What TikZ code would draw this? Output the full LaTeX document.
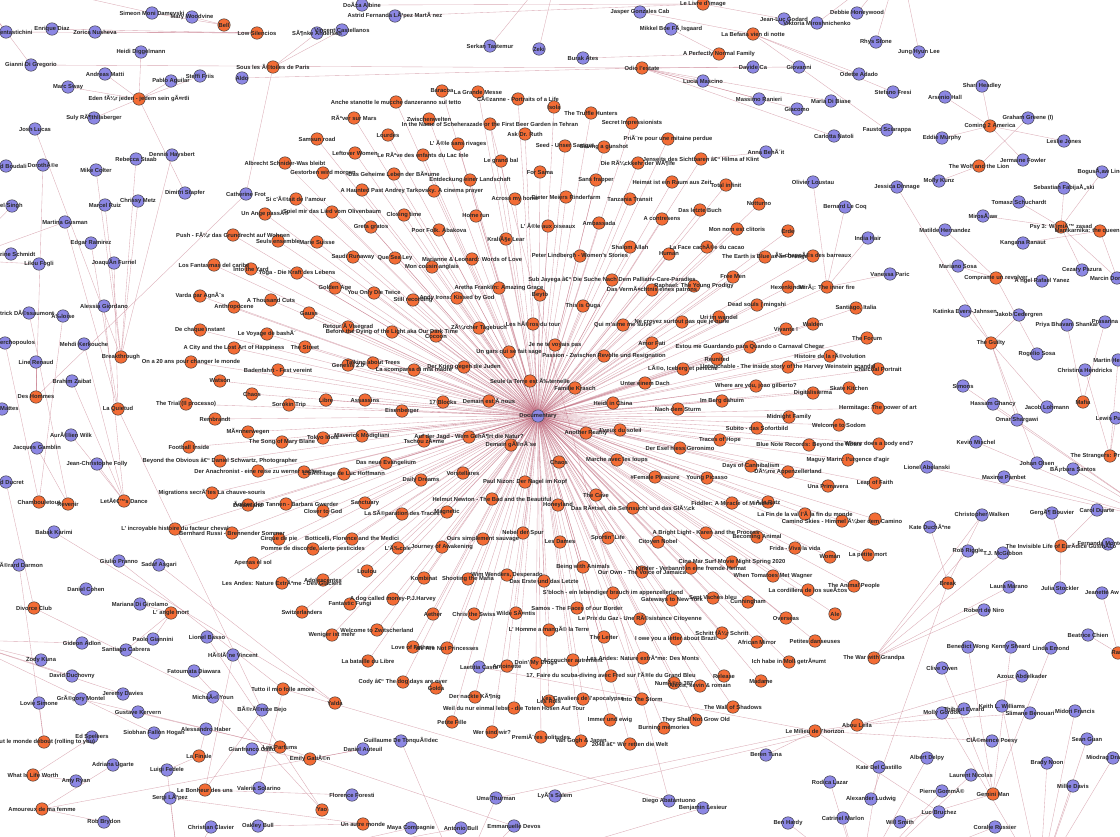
\documentclass[tikz,border=0pt]{standalone}
\usepackage{fontspec}
\setmainfont{Liberation Sans}
\pgfdeclarelayer{bg}
\pgfsetlayers{bg,main}
\definecolor{forg}{RGB}{243,108,53}
\definecolor{apur}{RGB}{140,135,228}
\definecolor{ecol}{RGB}{190,100,120}
\definecolor{tcol}{RGB}{40,40,40}
\tikzset{
 fnode/.style={circle,fill=forg,draw=black!80,line width=0.45pt,minimum size=12.5pt,inner sep=0pt},
 anode/.style={circle,fill=apur,draw=black!80,line width=0.45pt,minimum size=12.5pt,inner sep=0pt},
 lab/.style={inner sep=0pt,text=tcol,font=\fontsize{5.8}{6}\selectfont\bfseries},
 edge/.style={draw=ecol,line width=0.35pt,opacity=0.55}
}
\newif\iflabelpass
\newcommand\fn[4]{\iflabelpass\node[lab] at (#1) {#4};\else\node[fnode] (#1) at (#2,#3) {};\fi}
\newcommand\an[4]{\iflabelpass\node[lab] at (#1) {#4};\else\node[anode] (#1) at (#2,#3) {};\fi}
\newcommand\anw[4]{\iflabelpass\node[lab,anchor=west] at (0,#3) {#4};\else\node[anode] (#1) at (#2,#3) {};\fi}
\newcommand\allnodes{%
\anw{enn}{6}{32}{entastichini}
\an{enr}{52}{29}{Enrique Diaz}
\an{zor}{95}{32}{Zorica Nusheva}
\an{sim}{152}{13}{Simeon Moni Damevski}
\an{mar}{192}{17}{Mary Woodvine}
\an{hei}{141}{52}{Heidi Diggelmann}
\an{gia}{31}{65}{Gianni Di Gregorio}
\an{and}{105}{74}{Andreas Matti}
\an{ste}{200}{76}{Steffi Friis}
\an{ald}{242}{78}{Aldo}
\an{pab}{171}{81}{Pablo Aguilar}
\an{msw}{68}{87}{Marc Sway}
\an{sul}{94}{118}{Suly RÃ¶thlisberger}
\an{jos}{35}{129}{Josh Lucas}
\an{reb}{136}{159}{Rebecca Staab}
\an{den}{172}{155}{Dennis Haysbert}
\an{mik}{96}{170}{Mike Colter}
\an{dor}{43}{165}{DorothÃ©e}
\anw{bou}{6}{166}{d Boudali}
\an{don}{362}{5}{DoÃ±a Albine}
\an{ast}{395}{16}{Astrid Fernanda LÃ³pez MartÃ nez}
\an{vin}{342}{30}{Vincent Castellanos}
\an{son}{317}{33}{SÃ¶nke Andersen}
\an{ser}{490}{46}{Serkan Tastemur}
\an{zek}{539}{49}{Zeki}
\an{jas}{640}{12}{Jasper Gonzales Cab}
\an{mik2}{671}{29}{Mikkel Boe FÃ¸lsgaard}
\an{jlg}{784}{19}{Jean-Luc Godard}
\an{vik}{817}{23}{Viktoria Miroshnichenko}
\an{deb}{857}{13}{Debbie Honeywood}
\an{bur}{583}{58}{Burak Ates}
\an{dav}{753}{67}{Davide Ca}
\an{gio}{799}{67}{Giovanni}
\an{luc}{703}{81}{Lucia Mascino}
\an{mas}{759}{99}{Massimo Ranieri}
\an{giac}{797}{109}{Giacomo}
\an{mdb}{831}{101}{Maria Di Biase}
\an{car}{834}{136}{Carlotta Natoli}
\an{anb}{766}{152}{Anna BehÃ´it}
\an{rhy}{876}{42}{Rhys Stone}
\an{jun}{919}{52}{Jung Hyun Lee}
\an{ode}{859}{74}{Odette Adado}
\an{sfr}{893}{92}{Stefano Fresi}
\an{fau}{887}{130}{Fausto Sciarappa}
\an{sha}{982}{86}{Shari Headley}
\an{ars}{945}{97}{Arsenio Hall}
\an{gra}{1028}{118}{Graham Greene (I)}
\an{edd}{942}{138}{Eddie Murphy}
\an{les}{1064}{141}{Leslie Jones}
\an{jer}{1023}{160}{Jermaine Fowler}
\an{bog}{1102}{172}{BogusÅ‚aw Linda}
\an{mol}{939}{181}{Molly Kunz}
\an{chr}{138}{201}{Chrissy Metz}
\an{mrc}{105}{205}{Marcel Ruiz}
\an{dim}{185}{193}{Dimitri Stapfer}
\an{cat}{246}{194}{Catherine Frot}
\anw{sin}{12}{206}{el Singh}
\an{mgu}{65}{222}{Martina Gusman}
\an{edg}{91}{243}{Edgar Ramirez}
\anw{sch}{11}{254}{rine Schmidt}
\an{lil}{39}{264}{Lilou Fogli}
\an{joa}{114}{263}{JoaquÃ­n Furriel}
\an{ale}{104}{306}{Alessia Giordano}
\anw{pat}{29}{313}{trick DÃ©ssaumont}
\an{lou}{63}{316}{Ã‰loise}
\anw{mer}{5}{343}{erchopoulos}
\an{meh}{84}{344}{Mehdi Kerkouche}
\an{lin}{36}{362}{Line Renaud}
\an{bra}{72}{381}{Brahim Zaibat}
\anw{mat}{2}{409}{Mattes}
\an{aur}{71}{435}{AurÃ©lien Wilk}
\an{jac}{37}{448}{Jacques Gamblin}
\an{jcf}{97}{464}{Jean-Christophe Folly}
\anw{duc}{6}{482}{d Ducret}
\an{doc}{538}{416}{Documentary}
\an{oli}{813}{182}{Olivier Loustau}
\an{ber}{845}{207}{Bernard Le Coq}
\an{jes}{897}{187}{Jessica Dinnage}
\an{ind}{868}{238}{India Hair}
\an{mth}{945}{230}{Matilde Hernandez}
\an{tom}{1019}{202}{Tomasz Schuchardt}
\an{seb}{1064}{188}{Sebastian FabijaÅ„ski}
\an{mir}{983}{216}{MirosÅ‚aw}
\an{kan}{1023}{243}{Kangana Ranaut}
\an{msos}{958}{266}{Mariano Sosa}
\an{ang}{1042}{281}{Ã ngel Rafael Yanez}
\an{cez}{1082}{270}{Cezary Pazura}
\an{mdo}{1117}{278}{Marcin DorociÅ„ski}
\an{van}{890}{274}{Vanessa Paric}
\an{kat}{965}{311}{Katinka Evers-Jahnsen}
\an{jak}{1019}{315}{Jakob Cedergren}
\an{pri}{1067}{325}{Priya Bhavani Shankar}
\an{pra}{1105}{322}{Prasanna}
\an{rog}{1037}{354}{Rogelio Sosa}
\an{mhe}{1118}{360}{Martin Henderson}
\an{chh}{1085}{370}{Christina Hendricks}
\an{simo}{963}{386}{Simons}
\an{has}{993}{404}{Hassam Ghancy}
\an{jlo}{1047}{407}{Jacob Lohmann}
\an{oma}{1017}{420}{Omar Shargawi}
\an{lew}{1116}{418}{Lewis Pullman}
\an{kev}{976}{442}{Kevin Mischel}
\an{joh}{1037}{463}{Johan Olsen}
\an{bar}{1073}{469}{BÃ¡rbara Santos}
\an{lio}{927}{467}{Lionel Abelanski}
\an{max}{1004}{477}{Maxime Pambet}
\an{bab}{54}{532}{Babak Karimi}
\an{ger}{19}{565}{GÃ©rard Darmon}
\an{giu}{119}{561}{Giulio Pranno}
\an{sad}{159}{565}{Sadaf Asgari}
\an{dco}{86}{589}{Daniel Cohen}
\an{mdg}{140}{604}{Mariana Di Girolamo}
\an{pao}{153}{639}{Paolo Giannini}
\an{lba}{207}{637}{Lionel Basso}
\an{gid}{82}{643}{Gideon Adlon}
\an{san}{126}{650}{Santiago Cabrera}
\an{hel}{233}{655}{HÃ©lÃ¨ne Vincent}
\an{zod}{41}{660}{Zody Kuna}
\an{ddu}{72}{676}{David Duchovny}
\an{fat}{194}{671}{Fatoumata Diawara}
\an{jdv}{123}{694}{Jeremy Davies}
\an{lov}{39}{703}{Lovie Simone}
\an{gre}{81}{699}{GrÃ©gory Montel}
\an{mic}{213}{697}{MichaÃ«l Youn}
\an{bej}{262}{710}{BÃ©rÃ©nice Bejo}
\an{gus}{138}{712}{Gustave Kervern}
\an{ahb}{206}{729}{Alessandro Haber}
\an{sio}{154}{733}{Siobhan Fallon Hogan}
\an{eds}{92}{737}{Ed Speleers}
\an{gga}{252}{749}{Gianfranco Gallo}
\an{dau}{363}{749}{Daniel Auteuil}
\an{adr}{113}{765}{Adriana Ugarte}
\an{lfe}{167}{770}{Luigi Fedele}
\an{amy}{76}{781}{Amy Ryan}
\an{val}{259}{788}{Valeria Solarino}
\an{slo}{170}{798}{Sergi LÃ³pez}
\an{flo}{352}{795}{Florence Foresti}
\an{rob}{104}{822}{Rob Brydon}
\an{ccl}{211}{827}{Christian Clavier}
\an{oak}{258}{826}{Oakley Bull}
\an{gto}{401}{741}{Guillaume De TonquÃ©dec}
\an{uma}{496}{798}{Uma Thurman}
\an{lye}{555}{796}{LyÃ¨s Salem}
\an{dab}{669}{801}{Diego Abatantuono}
\an{bles}{703}{808}{Benjamin Lesieur}
\an{may}{411}{828}{Maya Compagnie}
\an{ant}{461}{828}{Antonio Bull}
\an{emm}{514}{826}{Emmanuelle Devos}
\an{lae}{479}{667}{Laetitia Casta}
\an{kdu}{930}{527}{Kate DuchÃªne}
\an{cwa}{982}{515}{Christopher Walken}
\an{gbo}{1052}{513}{GergÃ¶ Bouvier}
\an{cdu}{1097}{510}{Carol Duarte}
\an{fer}{1108}{544}{Fernanda Montenegro}
\an{rri}{968}{551}{Rob Riggle}
\an{tjm}{1003}{553}{T.J. McGibbon}
\an{lma}{1009}{587}{Laura Marano}
\an{jst}{1060}{588}{Julia Stockler}
\an{jaw}{1102}{593}{Jeanette Aw}
\an{rdn}{984}{610}{Robert de Niro}
\an{bch}{1088}{635}{Beatrice Chien}
\an{bwo}{968}{647}{Benedict Wong}
\an{ksh}{1011}{647}{Kenny Sheard}
\an{lem}{1051}{648}{Linda Emond}
\an{cow}{942}{668}{Clive Owen}
\an{azo}{1022}{676}{Azouz Abdelkader}
\an{mgo}{942}{713}{Molly Gordon}
\an{tev}{964}{709}{Thibaut Evrard}
\an{kwi}{1002}{706}{Keith L. Williams}
\an{sli}{1030}{713}{Slimane Benouari}
\an{mfr}{1075}{711}{Midori Francis}
\an{cpo}{992}{741}{ClÃ©mence Poesy}
\an{sgu}{1087}{739}{Sean Guan}
\an{btu}{766}{755}{Beren Tuna}
\an{ade}{927}{758}{Albert Delpy}
\an{bno}{1047}{763}{Brady Noon}
\an{mdr}{1113}{758}{Miodrag Dragicevic}
\an{kdc}{879}{767}{Kate Del Castillo}
\an{lni}{971}{775}{Laurent Nicolas}
\an{rla}{830}{782}{Rodica Lazar}
\an{mda}{1073}{786}{Millie Davis}
\an{pgo}{942}{791}{Pierre GommÃ©}
\an{alu}{871}{799}{Alexander Ludwig}
\an{lbr}{939}{812}{Luc Bruchez}
\an{cma}{843}{818}{Catrinel Marlon}
\an{wsm}{900}{822}{Will Smith}
\an{bha}{788}{823}{Ben Hardy}
\an{cru}{995}{827}{Coralie Russier}
\fn{eden}{139}{99}{Eden fÃ¼r jeden - jedem sein gÃ¤rtli}
\fn{bell}{224}{25}{Bell}
\fn{lows}{257}{33}{Low Silencios}
\fn{sous}{273}{67}{Sous les Ã©toiles de Paris}
\fn{livre}{703}{4}{Le Livre d'image}
\fn{befa}{753}{34}{La Befana vien di notte}
\fn{perf}{719}{54}{A Perfectly Normal Family}
\fn{odio}{642}{68}{Odio l'estate}
\fn{com}{990}{126}{Coming 2 America}
\fn{wolf}{979}{166}{The Wolf and the Lion}
\fn{psy}{1061}{227}{Psy 3: W imiÄ™ zasad}
\fn{mani}{1100}{231}{Manikarnika: the queen of jhansi}
\fn{comp}{996}{278}{Comprame un revolver}
\fn{guil}{991}{343}{The Guilty}
\fn{mafia}{1083}{402}{Mafia}
\fn{stra}{1110}{456}{The Strangers: Prey at Night}
\fn{brk}{121}{357}{Breakthrough}
\fn{quie}{118}{409}{La Quietud}
\fn{desh}{36}{397}{Des Hommes}
\fn{chamb}{39}{502}{Chambouletout}
\fn{reven}{68}{504}{Revenir}
\fn{letd}{124}{501}{LetÃ¢€™s Dance}
\fn{divo}{34}{608}{Divorce Club}
\fn{angle}{171}{613}{L' angle mort}
\fn{tutto}{283}{689}{Tutto il mio folle amore}
\fn{yalda}{335}{703}{Yalda}
\fn{tout}{44}{742}{Tout le monde debout (rolling to you)}
\fn{parf}{280}{747}{Les Parfums}
\fn{emily}{310}{759}{Emily GatiÃ©n}
\fn{finale}{199}{756}{La Finale}
\fn{what}{33}{775}{What Is Life Worth}
\fn{bonh}{205}{790}{Le Bonheur des uns}
\fn{yao}{322}{810}{Yao}
\fn{amour}{42}{809}{Amoureux de ma femme}
\fn{autre}{363}{824}{Un autre monde}
\fn{invis}{1061}{546}{The Invisible Life of EurÃ­dice GusmÃ£o}
\fn{break}{948}{583}{Break}
\fn{grandpa}{874}{658}{The War with Grandpa}
\fn{abou}{857}{725}{Abou Leila}
\fn{milieu}{815}{731}{Le Milieu de l'horizon}
\fn{gemini}{993}{794}{Gemini Man}
\fn{ram}{1118}{653}{Ram}
\fn{c1}{396}{102}{Anche stanotte le mucche danzeranno sul tetto}
\fn{c2}{442}{91}{Baracoa}
\fn{c3}{478}{92}{La Grande Messe}
\fn{c4}{518}{99}{CÃ©zanne - Portraits of a Life}
\fn{c5}{554}{107}{Isola}
\fn{c6}{354}{118}{RÃªver sur Mars}
\fn{c7}{429}{119}{Zwischenwelten}
\fn{c8}{490}{124}{In the Name of Scheherazade or the First Beer Garden in Tehran}
\fn{c9}{591}{113}{The Truffle Hunters}
\fn{c10}{317}{139}{Samsun road}
\fn{c11}{388}{135}{Lourdes}
\fn{c12}{525}{134}{Ask Dr. Ruth}
\fn{c13}{458}{144}{L' Ã®le sans rivages}
\fn{c14}{565}{146}{Seed - Unser Saatgut}
\fn{c15}{604}{147}{Saving a gunshot}
\fn{c16}{501}{161}{Le grand bal}
\fn{c17}{540}{172}{For Sama}
\fn{c18}{355}{153}{Leftover Women}
\fn{c19}{423}{155}{Le RÃªve des enfants du Lac Inle}
\fn{c20}{285}{163}{Albrecht Schnider-Was bleibt}
\fn{c21}{323}{173}{Gestorben wird morgen}
\fn{c22}{394}{174}{Das Geheime Leben der BÃ¤ume}
\fn{c23}{470}{180}{Entdeckung einer Landschaft}
\fn{c24}{632}{123}{Secret Impressionists}
\fn{c25}{668}{139}{PriÃ¨re pour une mitaine perdue}
\fn{c26}{701}{159}{Jenseits des Sichtbaren â€“ Hilma af Klint}
\fn{c27}{638}{163}{Die RÃ¼ckkehr der WÃ¶lfe}
\fn{c28}{596}{180}{Sans frapper}
\fn{c29}{672}{182}{Heimat ist ein Raum aus Zeit}
\fn{c30}{726}{185}{Total infinit}
\fn{c31}{362}{190}{A Haunted Past}
\fn{c32}{434}{191}{Andrey Tarkovsky. A cinema prayer}
\fn{c33}{296}{199}{Si c'Ã©tait de l'amour}
\fn{c34}{332}{212}{Spiel mir das Lied vom Olivenbaum}
\fn{c35}{404}{215}{Closing time}
\fn{c36}{515}{199}{Across my home}
\fn{c37}{476}{216}{Home run}
\fn{c38}{371}{227}{Greta gratos}
\fn{c39}{439}{230}{Poor Folk. Abakova}
\fn{c40}{548}{226}{L' Ã®le aux oiseaux}
\fn{c41}{566}{197}{Dieter Meiers Rinderfarm}
\fn{c42}{630}{199}{Tanzania Transit}
\fn{c43}{506}{239}{KraliÃ§e Lear}
\fn{c44}{599}{223}{Ambassada}
\fn{c45}{353}{257}{Saudi Runaway}
\fn{c46}{395}{258}{Que Sea Ley}
\fn{c47}{472}{259}{Marianne \& Leonard: Words of Love}
\fn{c48}{432}{267}{Mon cousin anglais}
\fn{c49}{580}{256}{Peter Lindbergh - Women's Stories}
\fn{c50}{630}{247}{Shalom Allah}
\fn{c51}{669}{254}{Human}
\fn{c52}{707}{247}{La Face cachÃ©e du cacao}
\fn{c53}{335}{288}{Golden Age}
\fn{c54}{374}{293}{You Only Die Twice}
\fn{c55}{413}{300}{Still recording}
\fn{c56}{457}{298}{Andy Irons: Kissed by God}
\fn{c57}{499}{288}{Aretha Franklin: Amazing Grace}
\fn{c58}{540}{295}{Beyto}
\fn{c59}{612}{280}{Sub Jayega â€“ Die Suche Nach Dem Palliativ-Care-Paradies}
\fn{c60}{309}{313}{Gauss}
\fn{c61}{348}{327}{Retour Ã  Visegrad}
\fn{c62}{392}{332}{Before the Dying of the Light aka Our Dark Time}
\fn{c63}{436}{336}{Cocoon}
\fn{c64}{479}{328}{ZÃ¼rcher Tagebuch}
\fn{c65}{533}{324}{Les hÃ©ros du tour}
\fn{c66}{305}{347}{The Street}
\fn{c67}{509}{352}{Un gars qui se fait sage}
\fn{c68}{555}{345}{Je ne te voyais pas}
\fn{c69}{348}{365}{Genesis 2.0}
\fn{c70}{373}{363}{Talking about Trees}
\fn{c71}{414}{370}{La scomparsa di mia madre}
\fn{c72}{464}{367}{Der Krieg gegen die Juden}
\fn{c73}{278}{370}{Badenfahrt - Fest vereint}
\fn{c74}{530}{381}{Seule la Terre est Ã‰ternelle}
\fn{c75}{289}{405}{Sorokin Trip}
\fn{c76}{326}{400}{Libre}
\fn{c77}{365}{400}{Assassins}
\fn{c78}{402}{411}{Eisenberger}
\fn{c79}{443}{402}{17 Blocks}
\fn{c80}{489}{401}{Demain est Ã  nous}
\fn{c81}{323}{438}{Tokyo Idols}
\fn{c82}{362}{436}{Maverick Modigliani}
\fn{c83}{424}{441}{Tschou zÃ¤me}
\fn{c84}{469}{437}{Auf der Jagd - Wem GehÃ¶rt die Natur?}
\fn{c85}{511}{445}{Demain gÃ©nÃ¨se}
\fn{c86}{304}{472}{}
\fn{c87}{344}{474}{L'hÃ©ritage de Luc Hoffmann}
\fn{c88}{386}{463}{Das neue Evangelium}
\fn{c89}{421}{480}{Daily Dreams}
\fn{c90}{463}{473}{Vorstellares}
\fn{c91}{525}{482}{Paul Nizon: Der Nagel im Kopf}
\fn{c92}{492}{499}{Helmut Newton - The Bad and the Beautiful}
\fn{c93}{365}{503}{Sanctuary}
\fn{c94}{759}{204}{Notturno}
\fn{c95}{700}{210}{Das letzte Buch}
\fn{c96}{662}{219}{A contresens}
\fn{c97}{737}{229}{Mon nom est clitoris}
\fn{c98}{788}{231}{Erde}
\fn{c99}{765}{257}{The Earth is Blue as an Orange}
\fn{c100}{813}{256}{Ã‰chappÃ©s des barreaux}
\fn{c101}{733}{277}{Free Men}
\fn{c102}{694}{286}{Raphael: The Young Prodigy}
\fn{c103}{652}{290}{Das VermÃ¤chtnis eines patrons}
\fn{c104}{788}{287}{Hexenkinder}
\fn{c105}{827}{287}{MirÃ¡: The inner fire}
\fn{c106}{583}{306}{This is Ouga}
\fn{c107}{757}{305}{Dead souls | mingshi}
\fn{c108}{623}{325}{Qui m'aime me suive}
\fn{c109}{682}{322}{Ne croyez surtout pas que je hurle}
\fn{c110}{719}{317}{Uri im wandel}
\fn{c111}{813}{324}{Walden}
\fn{c112}{786}{329}{Vivante !}
\fn{c113}{652}{343}{Amor Fati}
\fn{c114}{750}{347}{Estou me Guardando para Quando o Carnaval Chegar}
\fn{c115}{604}{356}{Passion - Zwischen Revolte und Resignation}
\fn{c116}{717}{359}{Reunited}
\fn{c117}{830}{356}{Histoire de la rÃ©volution}
\fn{c118}{683}{369}{LÃ©o, Iceberg et peniche}
\fn{c119}{788}{367}{Untouchable - The inside story of the Harvey Weinstein scandal}
\fn{c120}{645}{383}{Unter einem Dach}
\fn{c121}{575}{388}{Familie Krasch}
\fn{c122}{756}{386}{Where are you, joao gilberto?}
\fn{c123}{813}{393}{Digitalisierma}
\fn{c124}{849}{388}{Skate Kitchen}
\fn{c125}{878}{369}{Charcoal Portrait}
\fn{c126}{613}{403}{Heidi in China}
\fn{c127}{678}{409}{Nach dem Sturm}
\fn{c128}{722}{401}{Im Berg dahuim}
\fn{c129}{789}{417}{Midnight Family}
\fn{c130}{839}{425}{Welcome to Sodom}
\fn{c131}{878}{408}{Hermitage: The power of art}
\fn{c132}{586}{433}{Another Reality}
\fn{c133}{620}{430}{J'veux du soleil}
\fn{c134}{757}{428}{Subito - das Sofortbild}
\fn{c135}{720}{440}{Traces of Hope}
\fn{c136}{680}{448}{Der Esel hiess Geronimo}
\fn{c137}{809}{445}{Blue Note Records: Beyond the Notes}
\fn{c138}{879}{444}{Where does a body end?}
\fn{c139}{559}{462}{Chaos}
\fn{c140}{617}{460}{Marche avec les loups}
\fn{c141}{751}{466}{Days of Cannibalism}
\fn{c142}{848}{460}{Maguy Marin: l'urgence d'agir}
\fn{c143}{788}{472}{DÃ¼rre Appenzellerland}
\fn{c144}{655}{477}{\#Female Pleasure}
\fn{c145}{707}{478}{Young Picasso}
\fn{c146}{828}{486}{Una Primavera}
\fn{c147}{875}{483}{Leap of Faith}
\fn{c148}{596}{495}{The Cave}
\fn{c149}{558}{505}{Honeyland}
\fn{c150}{633}{508}{Das RÃ¤tsel, die Sehnsucht und das GlÃ¼ck}
\fn{c151}{732}{503}{Fiddler: A Miracle of Miracles}
\fn{c152}{768}{502}{A la Ratz}
\fn{c153}{856}{308}{Santiago, Italia}
\fn{c154}{867}{338}{The Forum}
\fn{c155}{252}{394}{Chaos}
\fn{c156}{186}{404}{The Trial (Il processo)}
\fn{c157}{215}{419}{Rembrandt}
\fn{c158}{248}{432}{MÃ¤nnerwegen}
\fn{c159}{282}{442}{The Song of Mary Blane}
\fn{c160}{189}{447}{Football Inside}
\fn{c161}{220}{461}{Beyond the Obvious â€“ Daniel Schwartz, Photographer}
\fn{c162}{258}{471}{Der Anachronist - eine reise zu werner sachen}
\fn{c163}{212}{493}{Migrations secrÃ¨tes La chauve-souris}
\fn{c164}{220}{381}{Watson}
\fn{c165}{191}{362}{On a 20 ans pour changer le monde}
\fn{c166}{234}{348}{A City and the Lost Art of Happiness}
\fn{c167}{200}{330}{De chaque instant}
\fn{c168}{267}{334}{Le Voyage de bashÃ´}
\fn{c169}{200}{296}{Varda par AgnÃ¨s}
\fn{c170}{271}{300}{A Thousand Cuts}
\fn{c171}{234}{307}{Anthropocene}
\fn{c172}{214}{265}{Los Fantasmas del caribe}
\fn{c173}{251}{269}{Into the Yard}
\fn{c174}{297}{273}{Yoga - Die Kraft des Lebens}
\fn{c175}{233}{235}{Push - FÃ¼r das Grundrecht auf Wohnen}
\fn{c176}{265}{214}{Un Ange passÃ©}
\fn{c177}{278}{241}{Seuls ensemble}
\fn{c178}{317}{242}{Marie Suisse}
\fn{c179}{248}{505}{Dreamland}
\fn{c180}{286}{504}{Ãœber den Tannen - Barbara Gwerder}
\fn{c181}{175}{529}{L' incroyable histoire du facteur cheval}
\fn{c182}{232}{533}{Bernhard Russi - Brennender Sommer}
\fn{c183}{279}{539}{Cirque de pie}
\fn{c184}{352}{539}{Botticelli, Florence and the Medici}
\fn{c185}{313}{549}{Pomme de discorde, alerte pesticides}
\fn{c186}{323}{511}{Closer to God}
\fn{c187}{402}{514}{La SÃ©paration des Traces}
\fn{c188}{447}{512}{Magnetic}
\fn{c189}{253}{563}{Apenas el sol}
\fn{c190}{367}{571}{Loulou}
\fn{c191}{282}{583}{Les Andes: Nature ExtrÃªme - Des Glaciers}
\fn{c192}{323}{580}{Adolescentes}
\fn{c193}{302}{612}{Switzerlanders}
\fn{c194}{350}{604}{Fantastic Fungi}
\fn{c195}{393}{599}{A dog called money-P.J.Harvey}
\fn{c196}{377}{630}{Welcome to Zwitscherland}
\fn{c197}{332}{635}{Weniger ist mehr}
\fn{c198}{368}{661}{La bataille du Libre}
\fn{c199}{403}{682}{Cody â€“ The dog days are over}
\fn{c200}{523}{533}{Nebel der Spur}
\fn{c201}{483}{539}{Ours simplement sauvage}
\fn{c202}{560}{542}{Les Dames}
\fn{c203}{608}{538}{Sportin' Life}
\fn{c204}{706}{533}{A Bright Light - Karen and the Process}
\fn{c205}{658}{542}{Citoyen Nobel}
\fn{c206}{442}{547}{Journey of Awakening}
\fn{c207}{398}{548}{L'Ã‰cole}
\fn{c208}{424}{578}{Kombinat}
\fn{c209}{468}{579}{Shooting the Mafia}
\fn{c210}{507}{575}{Wim Wenders, Desperado}
\fn{c211}{544}{581}{Das Erste und das Letzte}
\fn{c212}{583}{567}{Being with Animals}
\fn{c213}{642}{572}{Our Own - The Voice of Jamaica}
\fn{c214}{691}{568}{Kinder - Verbannt in eine fremde Heimat}
\fn{c215}{732}{562}{Cine Mar Surf Movie Night Spring 2020}
\fn{c216}{613}{593}{S'bloch - ein lebendiger brauch im appenzellerland}
\fn{c217}{672}{600}{Gateways to New York}
\fn{c218}{713}{598}{Sept Vaches bleu}
\fn{c219}{748}{602}{Cunningham}
\fn{c220}{433}{614}{Aether}
\fn{c221}{474}{614}{Chris the Swiss}
\fn{c222}{516}{613}{Wilde SÃ¤ntis}
\fn{c223}{577}{608}{Samos - The Faces of our Border}
\fn{c224}{640}{619}{Le Prix du Gaz - Une RÃ©sistance Citoyenne}
\fn{c225}{549}{630}{L' Homme a mangÃ© la Terre}
\fn{c226}{604}{637}{The Letter}
\fn{c227}{676}{639}{I owe you a letter about Brazil}
\fn{c228}{722}{633}{Schritt fÃ¼r Schritt}
\fn{c229}{413}{647}{Love of Fathers}
\fn{c230}{447}{648}{We Are Not Princesses}
\fn{c231}{507}{666}{Antoinette}
\fn{c232}{536}{663}{Doin' My Drugs}
\fn{c233}{573}{660}{Accoucher autrement}
\fn{c234}{643}{658}{Les Andes: Nature extrÃªme: Des Monts}
\fn{c235}{611}{676}{17. Faire du scuba-diving avec Fred sur l'Ã®le du Grand Bleu}
\fn{c236}{436}{688}{Golda}
\fn{c237}{674}{683}{NumÃ©ro 387}
\fn{c238}{724}{676}{Release}
\fn{c239}{700}{686}{Alexis, kevin \& romain}
\fn{c240}{475}{697}{Der nackte KÃ¶nig}
\fn{c241}{549}{701}{Les Rois}
\fn{c242}{583}{699}{Les Cavaliers de l'apocalypse}
\fn{c243}{642}{699}{Into The Storm}
\fn{c244}{514}{708}{Weil du nur einmal lebst - die Toten Hosen Auf Tour}
\fn{c245}{733}{707}{The Wall of Shadows}
\fn{c246}{696}{720}{They Shall Not Grow Old}
\fn{c247}{452}{722}{Petite Fille}
\fn{c248}{610}{720}{Immer und ewig}
\fn{c249}{664}{728}{Burning memories}
\fn{c250}{492}{732}{Wer sind wir?}
\fn{c251}{541}{737}{PremiÃ¨res solitudes}
\fn{c252}{581}{741}{Van Gogh \& Japan}
\fn{c253}{630}{744}{2048 â€“ Wir retten die Welt}
\fn{c254}{805}{514}{La Fin de la val l'Ã  la fin du monde}
\fn{c255}{842}{521}{Camino Skies - Himmel Ã¼ber dem Camino}
\fn{c256}{875}{519}{}
\fn{c257}{757}{537}{Becoming Animal}
\fn{c258}{795}{548}{Frida - Viva la vida}
\fn{c259}{830}{557}{Woman}
\fn{c260}{868}{555}{La petite mort}
\fn{c261}{773}{576}{When Tomatoes Met Wagner}
\fn{c262}{854}{586}{The Animal People}
\fn{c263}{808}{590}{La cordillera de los sueÃ±os}
\fn{c264}{835}{614}{Ale}
\fn{c265}{786}{618}{Overseas}
\fn{c266}{815}{641}{Petites danseuses}
\fn{c267}{757}{642}{African Mirror}
\fn{c268}{789}{662}{Ich habe in Moll getrÃ¤umt}
\fn{c269}{761}{681}{Madame}
}
\begin{document}
\begin{tikzpicture}[x=1pt,y=-1pt]
\useasboundingbox (0,0) rectangle (1120,836);
% circles
\labelpassfalse
\allnodes
% free ends of connectors that leave the picture
\coordinate (oTL) at (-40,-30);
\coordinate (oT2) at (560,-40);
\coordinate (oT3) at (900,-40);
\coordinate (oR2) at (1160,520);
\coordinate (oB1) at (1040,880);
\coordinate (oB2) at (860,880);
\coordinate (oB3) at (180,880);
\coordinate (oB4) at (460,880);
\coordinate (oL2) at (-40,640);
\coordinate (oL3) at (-40,260);
% connectors, behind the circles
\begin{pgfonlayer}{bg}
\fill[white] (0,0) rectangle (1120,836);
\foreach \i in {1,...,269} \draw[edge] (doc) -- (c\i);
\foreach \a in {hei,and,msw,sul,pab,ste} \draw[edge] (eden) -- (\a);
\foreach \a in {mar,sim} \draw[edge] (bell) -- (\a);
\foreach \a in {zor,enr,enn} \draw[edge] (lows) -- (\a);
\foreach \a in {cat,son,vin} \draw[edge] (sous) -- (\a);
\foreach \a in {ald,gio,giac,luc,mas,dav,car,mdb,gia} \draw[edge] (odio) -- (\a);
\foreach \a in {jas,sfr,fau,ode} \draw[edge] (befa) -- (\a);
\foreach \a in {jlg,don,ast} \draw[edge] (livre) -- (\a);
\foreach \a in {mik2,bur} \draw[edge] (perf) -- (\a);
\foreach \a in {sha,ars,edd,les,jer} \draw[edge] (com) -- (\a);
\foreach \a in {gra,mol} \draw[edge] (wolf) -- (\a);
\foreach \a in {tom,seb,mir,cez,bog,mdo} \draw[edge] (psy) -- (\a);
\foreach \a in {kan,mdo} \draw[edge] (mani) -- (\a);
\foreach \a in {mth,msos,ang,rog} \draw[edge] (comp) -- (\a);
\foreach \a in {jes,kat,jak,oma,joh,jlo} \draw[edge] (guil) -- (\a);
\foreach \a in {pri,pra} \draw[edge] (mafia) -- (\a);
\foreach \a in {chh,lew,mhe} \draw[edge] (stra) -- (\a);
\foreach \a in {chr,mrc,jos,mik,den,reb} \draw[edge] (brk) -- (\a);
\foreach \a in {mgu,edg,joa,bej} \draw[edge] (quie) -- (\a);
\foreach \a in {cat,lin,dor} \draw[edge] (desh) -- (\a);
\foreach \a in {ale,meh,bra,jcf,aur} \draw[edge] (letd) -- (\a);
\foreach \a in {jac,pat} \draw[edge] (reven) -- (\a);
\foreach \a in {lou,mer} \draw[edge] (chamb) -- (\a);
\foreach \a in {mic,duc} \draw[edge] (divo) -- (\a);
\foreach \a in {mdg,san,pao} \draw[edge] (angle) -- (\a);
\foreach \a in {giu,dab,val} \draw[edge] (tutto) -- (\a);
\foreach \a in {sad,bab} \draw[edge] (yalda) -- (\a);
\foreach \a in {ger,lov} \draw[edge] (tout) -- (\a);
\foreach \a in {emm,gus,gre} \draw[edge] (parf) -- (\a);
\foreach \a in {dau,gga} \draw[edge] (emily) -- (\a);
\foreach \a in {ahb,lfe} \draw[edge] (finale) -- (\a);
\foreach \a in {amy,eds} \draw[edge] (what) -- (\a);
\foreach \a in {bej,flo,hel} \draw[edge] (bonh) -- (\a);
\foreach \a in {fat,lba} \draw[edge] (yao) -- (\a);
\foreach \a in {dau,adr,rob} \draw[edge] (amour) -- (\a);
\foreach \a in {slo,oak} \draw[edge] (autre) -- (\a);
\foreach \a in {gbo,cdu,jst,fer} \draw[edge] (invis) -- (\a);
\foreach \a in {cwa,alu,kdu} \draw[edge] (break) -- (\a);
\foreach \a in {cwa,rri,tjm,lma,rdn} \draw[edge] (grandpa) -- (\a);
\foreach \a in {sli,azo,lye} \draw[edge] (abou) -- (\a);
\foreach \a in {tev,cpo,lae,lbr,btu} \draw[edge] (milieu) -- (\a);
\foreach \a in {cow,bwo,wsm,lem,ksh} \draw[edge] (gemini) -- (\a);
\foreach \a in {bch,jaw} \draw[edge] (ram) -- (\a);
\foreach \a in {kwi,mfr,mgo,bno,mda,sgu,mdr} \draw[edge] (oB1) -- (\a);
\foreach \a in {ade,lni,pgo,cru,rla,cma,bha,kdc} \draw[edge] (oB2) -- (\a);
\foreach \a in {ccl,slo,lfe,may,ant} \draw[edge] (oB3) -- (\a);
\foreach \a in {uma,gto,emm,bles} \draw[edge] (oB4) -- (\a);
\foreach \a in {zod,ddu,gid,jdv,sio} \draw[edge] (oL2) -- (\a);
\foreach \a in {sin,sch,lil,mgu} \draw[edge] (oL3) -- (\a);
\foreach \a in {vik,deb,rhy,jun} \draw[edge] (oT3) -- (\a);
\foreach \a in {ser,zek} \draw[edge] (oT2) -- (\a);
\foreach \a in {sim,gia,enn} \draw[edge] (oTL) -- (\a);
\foreach \a in {oli,ber,ind,van} \draw[edge] (c105) -- (\a);
\foreach \a in {simo,has,kev,max,lio,bar} \draw[edge] (oR2) -- (\a);
\draw[edge] (dim) -- (eden);
\draw[edge] (anb) -- (c26);
\draw[edge] (uma) -- (milieu);
\draw[edge] (dab) -- (c8);
\end{pgfonlayer}
% labels, over the circles
\labelpasstrue
\allnodes
\end{tikzpicture}
\end{document}
